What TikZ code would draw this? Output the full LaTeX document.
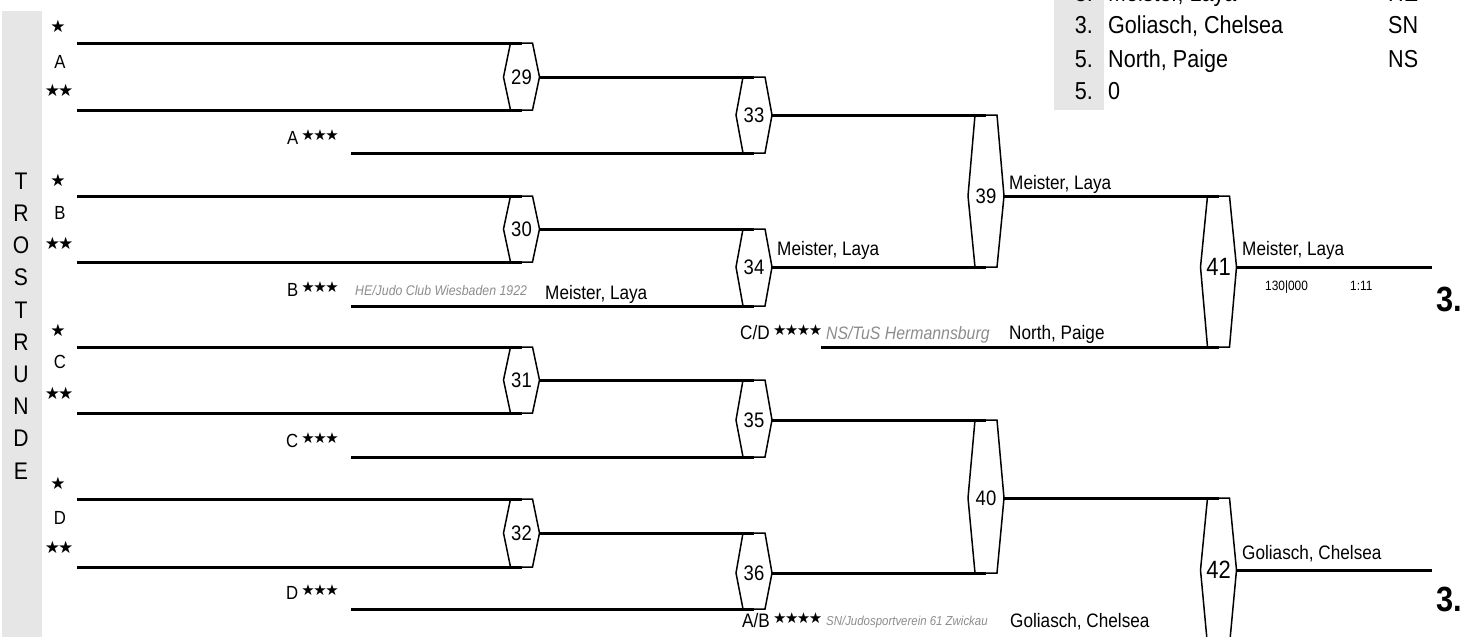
\documentclass[tikz,border=0pt]{standalone}
\usepackage{fontspec}
\setmainfont{Liberation Sans}[FakeStretch=0.88]
\newfontfamily\symf{DejaVu Sans}
\newcommand{\fs}[1]{\fontsize{#1}{#1}\selectfont}
\newcommand{\seedstars}[1]{{\symf\fs{15}\raisebox{3.5pt}{#1}}}
\definecolor{bargray}{HTML}{E6E6E6}
\definecolor{clubgray}{HTML}{8C8C8C}
\newcommand{\hexm}[6]{%
  \draw[hexline] ({#2-11},#3) -- ({#2+11},#3) -- ({#2+18},#4) -- ({#2+11},#5) -- ({#2-11},#5) -- ({#2-18},#4) -- cycle;
  \node[#6] (#1) at (#2,#4) {\strut};
  \coordinate (#1t) at (#2,#3);
  \coordinate (#1b) at (#2,#5);
  \coordinate (#1r) at ({#2+18},#4);}
\begin{document}
\begin{tikzpicture}[x=1pt,y=-1pt,
  wire/.style={line width=3pt},
  hexline/.style={line width=1.5pt,line join=miter},
  num/.style={inner sep=0pt,font=\fs{21}},
  bignum/.style={inner sep=0pt,font=\fs{25}},
  nm/.style={inner sep=0pt,anchor=base west,font=\fs{19.5}},
  club/.style={inner sep=0pt,anchor=base west,text=clubgray,font=\itshape\fs{#1}},
  seed/.style={inner sep=0pt,anchor=base east,font=\fs{19}},
  starnode/.style={inner sep=0pt,font=\symf\fs{17}},
  grp/.style={inner sep=0pt,font=\fs{19}},
  trl/.style={inner sep=0pt,font=\fs{24}},
  tab/.style={inner sep=0pt,font=\fs{24.5}},
  plc/.style={inner sep=0pt,anchor=base east,font=\bfseries\fs{35}},
  smalltxt/.style={inner sep=0pt,anchor=base west,font=\fs{13.5}}]
\clip (0,0) rectangle (1462,637);
% left grey bar
\fill[bargray] (2,11) rectangle (42,640);
\foreach \l [count=\i from 0] in {T,R,O,S,T,R,U,N,D,E}
  \node[trl] (tr\i) at (21,{181+32.2*\i}) {\l};
% result table
\fill[bargray] (1054,-10) rectangle (1104,110);
\node[tab,anchor=base east] (r1p) at (1093,1.5) {3.};
\node[tab,anchor=base west] (r1n) at (1108,1.5) {Meister, Laya};
\node[tab,anchor=base west] (r1c) at (1388,1.5) {HE};
\node[tab,anchor=base east] (r2p) at (1093,34) {3.};
\node[tab,anchor=base west] (r2n) at (1108,34) {Goliasch, Chelsea};
\node[tab,anchor=base west] (r2c) at (1388,34) {SN};
\node[tab,anchor=base east] (r3p) at (1093,67) {5.};
\node[tab,anchor=base west] (r3n) at (1108,67) {North, Paige};
\node[tab,anchor=base west] (r3c) at (1388,67) {NS};
\node[tab,anchor=base east] (r4p) at (1093,99) {5.};
\node[tab,anchor=base west] (r4n) at (1108,99) {0};
% group labels
\foreach \g/\ya/\yb/\yc [count=\i] in {A/26/62/90,B/180/213/243,C/330/362/393,D/483/518/547}{
  \node[starnode] (s1\i) at (58,\ya) {★};
  \node[grp] (g\i) at (60,\yb) {\g};
  \node[starnode] (s2\i) at (59,\yc) {★\kern-2pt★};
}
% hexes
\hexm{h29}{521.5}{43}{77}{110}{num}
\hexm{h30}{521.5}{196}{229}{262}{num}
\hexm{h31}{521.5}{347}{380}{413}{num}
\hexm{h32}{521.5}{499}{533}{567}{num}
\hexm{h33}{754}{77}{115}{153}{num}
\hexm{h34}{754}{229}{267}{306}{num}
\hexm{h35}{754}{380}{420}{457}{num}
\hexm{h36}{754}{533}{573}{609}{num}
\hexm{h39}{986}{115}{196}{267}{num}
\hexm{h40}{986}{420}{498}{573}{num}
\hexm{h41}{1218.5}{196}{267}{347}{bignum}
\hexm{h42}{1218.5}{498}{570}{645}{bignum}
\foreach \h/\t in {h29/29,h30/30,h31/31,h32/32,h33/33,h34/34,h35/35,h36/36,h39/39,h40/40}
  \node[num] at (\h) {\t};
\node[bignum] at (h41) {41};
\node[bignum] at (h42) {42};
% entry coordinates
\coordinate (a1) at (77,43);  \coordinate (a2) at (77,110);  \coordinate (a3) at (351,153);
\coordinate (b1) at (77,196); \coordinate (b2) at (77,262);  \coordinate (b3) at (351,306);
\coordinate (c1) at (77,347); \coordinate (c2) at (77,413);  \coordinate (c3) at (351,457);
\coordinate (d1) at (77,499); \coordinate (d2) at (77,567);  \coordinate (d3) at (351,609);
\coordinate (cd) at (821,347); \coordinate (ab) at (821,645);
\coordinate (o41) at (1432,267); \coordinate (o42) at (1432,570);
% connectors
\draw[wire] (a1) -- (h29t); \draw[wire] (a2) -- (h29b);
\draw[wire] (b1) -- (h30t); \draw[wire] (b2) -- (h30b);
\draw[wire] (c1) -- (h31t); \draw[wire] (c2) -- (h31b);
\draw[wire] (d1) -- (h32t); \draw[wire] (d2) -- (h32b);
\draw[wire] (h29r) -- (h33t); \draw[wire] (a3) -- (h33b);
\draw[wire] (h30r) -- (h34t); \draw[wire] (b3) -- (h34b);
\draw[wire] (h31r) -- (h35t); \draw[wire] (c3) -- (h35b);
\draw[wire] (h32r) -- (h36t); \draw[wire] (d3) -- (h36b);
\draw[wire] (h33r) -- (h39t); \draw[wire] (h34r) -- (h39b);
\draw[wire] (h35r) -- (h40t); \draw[wire] (h36r) -- (h40b);
\draw[wire] (h39r) -- (h41t); \draw[wire] (cd) -- (h41b);
\draw[wire] (h40r) -- (h42t); \draw[wire] (ab) -- (h42b);
\draw[wire] (h41r) -- (o41); \draw[wire] (h42r) -- (o42);
% third-seed labels
\foreach \g/\y [count=\i] in {A/144,B/296,C/447,D/599}
  \node[seed] (t\i) at (339,\y) {\g\,\seedstars{★\kern-1.5pt★\kern-1.5pt★}};
% labels
\node[club=14] (club1) at (355,295) {HE/Judo Club Wiesbaden 1922};
\node[nm] (n1) at (545,299) {Meister, Laya};
\node[nm] (n2) at (777,255) {Meister, Laya};
\node[nm] (n3) at (1009,189) {Meister, Laya};
\node[nm] (n4) at (1242,255) {Meister, Laya};
\node[smalltxt] (sc1) at (1265,290) {130|000};
\node[smalltxt] (sc2) at (1350,290) {1:11};
\node[nm] (cdl) at (740,339) {C/D\,\seedstars{★\kern-1.5pt★\kern-1.5pt★\kern-1.5pt★}};
\node[club=18] (club2) at (826,339) {NS/TuS Hermannsburg};
\node[nm] (n5) at (1009,339) {North, Paige};
\node[nm] (abl) at (742,627) {A/B\,\seedstars{★\kern-1.5pt★\kern-1.5pt★\kern-1.5pt★}};
\node[club=13] (club3) at (826,625) {SN/Judosportverein 61 Zwickau};
\node[nm] (n6) at (1010,627) {Goliasch, Chelsea};
\node[nm] (n7) at (1242,559) {Goliasch, Chelsea};
\node[plc] (p1) at (1462,311) {3.};
\node[plc] (p2) at (1462,611) {3.};
\end{tikzpicture}
\end{document}
